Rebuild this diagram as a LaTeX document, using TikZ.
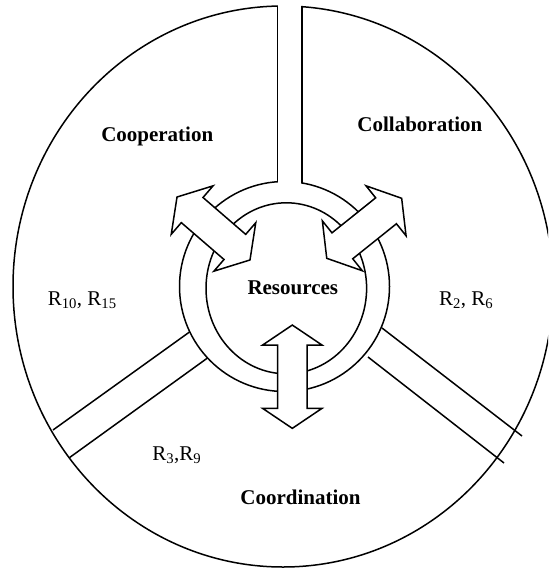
\documentclass[tikz,border=0pt]{standalone}
\usepackage{fontspec}
\setmainfont{Liberation Serif}
\newcommand\blockarr[7]{%
  \begin{scope}[shift={(#1,#2)},rotate=#3]
    \draw[blockarrow] ({-#4/2},0) -- ({-#4/2+#7},#6) -- ({-#4/2+#7},#5) -- ({#4/2-#7},#5)
      -- ({#4/2-#7},#6) -- ({#4/2},0) -- ({#4/2-#7},-#6) -- ({#4/2-#7},-#5)
      -- ({-#4/2+#7},-#5) -- ({-#4/2+#7},-#6) -- cycle;
  \end{scope}}
\begin{document}
\begin{tikzpicture}[x=1pt,y=-1pt,line width=1.5pt,
  lbl/.style={inner sep=0pt,font=\fontsize{21}{24}\selectfont\bfseries},
  rlbl/.style={inner sep=0pt,font=\fontsize{21}{24}\selectfont},
  blockarrow/.style={draw=black,fill=white,line width=1.5pt,line join=miter}]
\useasboundingbox (0,0) rectangle (548,569);
\begin{scope}
  \clip (0,0) rectangle (548,569);
  \draw (283,286.5) ellipse [x radius=270, y radius=280.5];
\end{scope}
% ring
\draw (284.5,286.5) circle [radius=105];
\draw (286.3,288.3) ellipse [x radius=80.3, y radius=85.5];
% top channel
\fill[white] (278.3,0) rectangle (301.2,192);
\coordinate (tl1) at (277.5,6.1);  \coordinate (tl2) at (277.5,181.7);
\coordinate (tr1) at (302,6.7);    \coordinate (tr2) at (302,183);
\draw (tl1) -- (tl2);
\draw (tr1) -- (tr2);
% lower-left channel
\coordinate (ll1) at (189.5,332); \coordinate (ll2) at (53,430);
\coordinate (ll3) at (207.5,358); \coordinate (ll4) at (69.5,457.6);
\draw (ll1) -- (ll2);
\draw (ll3) -- (ll4);
% lower-right channel
\coordinate (lr1) at (382,328); \coordinate (lr2) at (522,436);
\coordinate (lr3) at (368,357); \coordinate (lr4) at (504,463);
\draw (lr1) -- (lr2);
\draw (lr3) -- (lr4);
% block arrows
\blockarr{213.5}{228.5}{-40.8}{96.4}{16.6}{32}{20}
\blockarr{364.2}{228.3}{38.7}{96}{16.6}{32}{20}
\blockarr{292.3}{376.7}{90}{103.3}{14.7}{29.7}{20}
% labels
\node[lbl,anchor=base east] (coop) at (214,141.7) {Cooperation};
\node[lbl,anchor=base west] (coll) at (356.7,131.7) {Collaboration};
\node[lbl,anchor=base] (res) at (292.8,294) {Resources};
\node[lbl,anchor=base] (coord) at (300.5,504.3) {Coordination};
\node[rlbl,anchor=base west] (r1) at (47,305) {R\textsubscript{10}, R\textsubscript{15}};
\node[rlbl,anchor=base east] (r2) at (494,305) {R\textsubscript{2}, R\textsubscript{6}};
\node[rlbl,anchor=base east] (r3) at (202,460) {R\textsubscript{3},R\textsubscript{9}};
\end{tikzpicture}
\end{document}
